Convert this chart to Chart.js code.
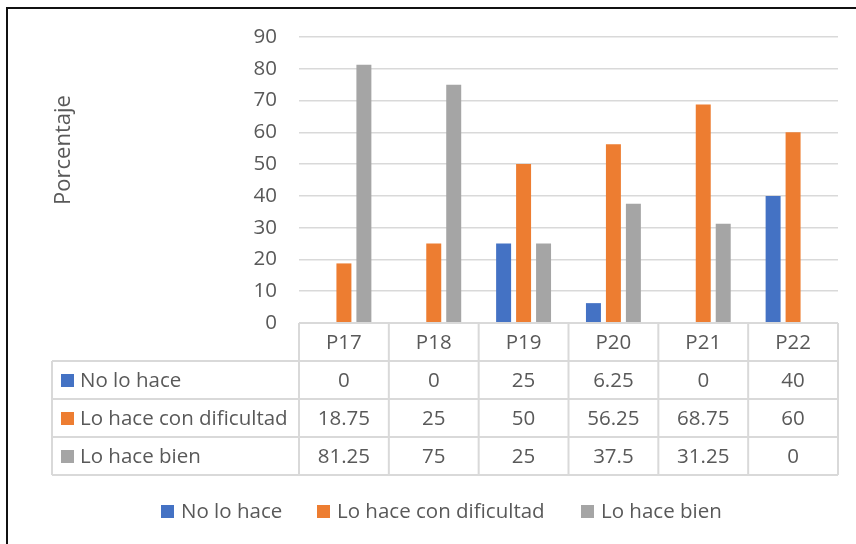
<!DOCTYPE html>
<html>
<head>
<meta charset="utf-8">
<script src="https://cdn.jsdelivr.net/npm/chart.js@4"></script>
<style>
  html, body { margin: 0; padding: 0; background: #fff; }
  #wrap { position: relative; width: 856px; height: 544px; overflow: hidden; }
  #frame { position: absolute; left: 6px; top: 7px; width: 900px; height: 600px;
           border-left: 2px solid #111; border-top: 2px solid #111; }
  canvas { position: absolute; left: 0; top: 0; }
</style>
</head>
<body>
<div id="wrap">
  <div id="frame"></div>
  <canvas id="chart" width="856" height="544"></canvas>
</div>
<script>
const categories = ['P17', 'P18', 'P19', 'P20', 'P21', 'P22'];
const seriesNames = ['No lo hace', 'Lo hace con dificultad', 'Lo hace bien'];
const noLoHace = [0, 0, 25, 6.25, 0, 40];
const conDificultad = [18.75, 25, 50, 56.25, 68.75, 60];
const loHaceBien = [81.25, 75, 25, 37.5, 31.25, 0];
const seriesColors = ['#4472C4', '#ED7D31', '#A5A5A5'];
const yMax = 90;
const yStep = 10;
const yTitle = 'Porcentaje';

const FONT = '"Open Sans", "DejaVu Sans", sans-serif';
const FONT_SIZE = 20.5;
const TEXT = '#595959';
const LINE = '#d9d9d9';

// data table under the plot, y title and bottom legend
const tablePlugin = {
  id: 'dataTable',
  afterDraw(chart) {
    const ctx = chart.ctx;
    const x = chart.scales.x;
    const area = chart.chartArea;
    const colW = (area.right - area.left) / categories.length;
    const rowH = 38;
    const tableLeft = 52;
    const top = area.bottom;
    const rows = [noLoHace, conDificultad, loHaceBien];

    ctx.save();
    ctx.strokeStyle = LINE;
    ctx.lineWidth = 2;
    ctx.beginPath();
    for (let i = 0; i <= categories.length; i++) {
      const lx = area.left + i * colW;
      ctx.moveTo(lx, top);
      ctx.lineTo(lx, top + rowH * 4);
    }
    ctx.moveTo(area.left, top);
    ctx.lineTo(area.right, top);
    for (let r = 1; r <= 4; r++) {
      ctx.moveTo(tableLeft, top + r * rowH);
      ctx.lineTo(area.right, top + r * rowH);
    }
    ctx.moveTo(tableLeft, top + rowH);
    ctx.lineTo(tableLeft, top + rowH * 4);
    ctx.stroke();

    ctx.font = FONT_SIZE + 'px ' + FONT;
    ctx.fillStyle = TEXT;
    ctx.textAlign = 'center';
    ctx.textBaseline = 'middle';
    categories.forEach((c, i) => {
      ctx.fillText(c, x.getPixelForValue(i), top + rowH / 2 + 1);
    });
    rows.forEach((vals, r) => {
      const cy = top + (r + 1) * rowH + rowH / 2 + 1;
      vals.forEach((v, i) => {
        ctx.fillStyle = TEXT;
        ctx.textAlign = 'center';
        ctx.fillText(String(v), x.getPixelForValue(i), cy);
      });
      ctx.fillStyle = seriesColors[r];
      ctx.fillRect(61, cy - 7, 13, 13);
      ctx.fillStyle = TEXT;
      ctx.textAlign = 'left';
      ctx.fillText(seriesNames[r], 80, cy);
    });

    // legend
    const legX = [161, 317, 581];
    const legY = 512;
    seriesNames.forEach((n, i) => {
      ctx.fillStyle = seriesColors[i];
      ctx.fillRect(legX[i], legY - 7, 13, 13);
      ctx.fillStyle = TEXT;
      ctx.textAlign = 'left';
      ctx.fillText(n, legX[i] + 20, legY);
    });

    // axis title
    ctx.translate(64, 150);
    ctx.rotate(-Math.PI / 2);
    ctx.textAlign = 'center';
    ctx.font = '22px ' + FONT;
    ctx.fillText(yTitle, 0, 0);
    ctx.restore();
  }
};

new Chart(document.getElementById('chart'), {
  type: 'bar',
  data: {
    labels: categories,
    datasets: [
      { label: seriesNames[0], data: noLoHace, backgroundColor: seriesColors[0] },
      { label: seriesNames[1], data: conDificultad, backgroundColor: seriesColors[1] },
      { label: seriesNames[2], data: loHaceBien, backgroundColor: seriesColors[2] }
    ]
  },
  options: {
    responsive: false,
    animation: false,
    layout: { padding: { left: 0, right: 18, top: 37, bottom: 221 } },
    datasets: { bar: { categoryPercentage: 0.667, barPercentage: 0.75 } },
    plugins: { legend: { display: false }, tooltip: { enabled: false } },
    scales: {
      x: { display: false },
      y: {
        min: 0,
        max: yMax,
        ticks: { stepSize: yStep, color: TEXT, padding: 22, font: { family: FONT, size: FONT_SIZE } },
        grid: { color: LINE, lineWidth: 1.5, drawTicks: false },
        border: { display: false },
        afterFit(scale) { scale.width = 299; }
      }
    }
  },
  plugins: [tablePlugin]
});
</script>
</body>
</html>
